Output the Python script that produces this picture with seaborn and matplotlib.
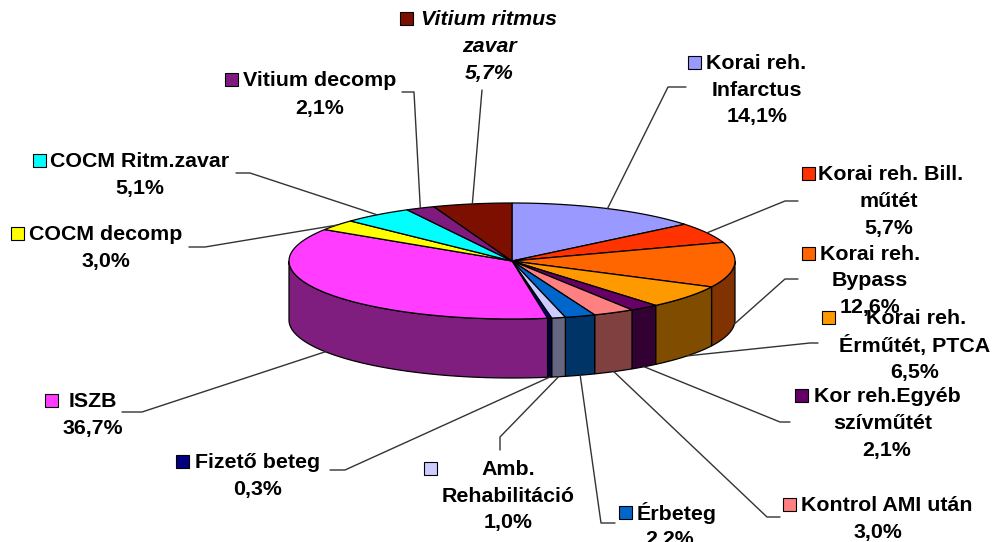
import numpy as np
import matplotlib
matplotlib.use("Agg")
import matplotlib.pyplot as plt
from matplotlib.patches import Rectangle
from matplotlib.colors import to_rgb
import seaborn as sns

# ---- data ----
labels = [
    ["Korai reh.", "Infarctus"],
    ["Korai reh. Bill.", "műtét"],
    ["Korai reh.", "Bypass"],
    ["Korai reh.", "Érműtét, PTCA"],
    ["Kor reh.Egyéb", "szívműtét"],
    ["Kontrol AMI után"],
    ["Érbeteg"],
    ["Amb.", "Rehabilitáció"],
    ["Fizető beteg"],
    ["ISZB"],
    ["COCM decomp"],
    ["COCM Ritm.zavar"],
    ["Vitium decomp"],
    ["Vitium ritmus", "zavar"],
]
values = [14.1, 5.7, 12.6, 6.5, 2.1, 3.0, 2.2, 1.0, 0.3, 36.7, 3.0, 5.1, 2.1, 5.7]
colors = ["#9999FF", "#FF3300", "#FF6600", "#FF9900", "#660066", "#FF8080", "#0066CC",
          "#CCCCFF", "#000080", "#FF3CFF", "#FFFF00", "#00FFFF", "#7F1A7F", "#7D0F00"]

# ---- layout (pixels) ----
CX, CY, RX, RY, DEPTH = 512, 261, 223, 58, 59
TEXT_DY = 1.5
key_pos = [(688, 62), (802, 173), (802, 253), (822, 317), (795, 395), (783, 504), (619, 512),
           (424, 468), (176, 461), (45, 400), (11, 233), (33, 160), (225, 79), (400, 18)]
line_pos = [
    [(756, 62), (757, 89), (757, 115)],
    [(891, 173), (889, 200), (889, 227)],
    [(870, 253), (870, 279), (870, 306)],
    [(916, 317), (915, 344), (915, 371)],
    [(887, 395), (883, 422), (887, 449)],
    [(887, 504), (878, 531)],
    [(677, 512), (670, 538)],
    [(508, 468), (508, 495), (508, 521)],
    [(258, 461), (258, 488)],
    [(93, 400), (93, 427)],
    [(106, 233), (106, 260)],
    [(140, 160), (140, 187)],
    [(320, 79), (320, 107)],
    [(489, 18), (489, 45), (489, 72)],
]
elbows = [
    [(668, 87), (686, 87)],
    [(785, 201), (798, 201)],
    [(785, 279), (798, 279)],
    [(810, 343), (818, 343)],
    [(780, 422), (790, 422)],
    [(767, 517), (780, 517)],
    [(601, 523), (615, 523)],
    [(500, 437), (500, 450)],
    [(345, 470), (330, 470)],
    [(142, 412), (122, 412)],
    [(205, 247), (189, 247)],
    [(250, 173), (236, 173)],
    [(414, 92), (402, 92)],
    [(482, 90)],
]

sns.set_theme(style="white")
plt.rcParams["font.family"] = ["Liberation Sans", "DejaVu Sans"]
palette = sns.color_palette(colors)

fig, ax = plt.subplots(figsize=(9.94, 5.42), dpi=100)
ax.set_position([0, 0, 1, 1])
ax.set_xlim(0, 994)
ax.set_ylim(542, 0)
ax.axis("off")


def ell(theta):
    """Point on the top ellipse, theta clockwise from 12 o'clock (radians)."""
    return CX + RX * np.sin(theta), CY - RY * np.cos(theta)


vals = np.array(values)
edges = np.concatenate([[0], np.cumsum(vals)]) / vals.sum() * 2 * np.pi
LW = 0.9

# side walls (only the front half is visible)
for i, col in enumerate(palette):
    a, b = max(edges[i], np.pi / 2), min(edges[i + 1], 3 * np.pi / 2)
    if b <= a:
        continue
    t = np.linspace(a, b, 80)
    x, y = ell(t)
    ax.fill(np.r_[x, x[::-1]], np.r_[y, y[::-1] + DEPTH],
            facecolor=tuple(c * 0.5 for c in to_rgb(col)), edgecolor="black", linewidth=LW, zorder=2)

# top faces
for i, col in enumerate(palette):
    t = np.linspace(edges[i], edges[i + 1], 80)
    x, y = ell(t)
    ax.fill(np.r_[CX, x], np.r_[CY, y], facecolor=col, edgecolor="black", linewidth=LW, zorder=3)

# leader lines
for i, el in enumerate(elbows):
    mid = (edges[i] + edges[i + 1]) / 2
    x0, y0 = ell(mid)
    if np.pi / 2 < mid < 3 * np.pi / 2:
        y0 += DEPTH
    xs = [x0] + [p[0] for p in el]
    ys = [y0] + [p[1] for p in el]
    ax.plot(xs, ys, color="#333333", linewidth=1.0, zorder=4)

# labels and keys
for i, (lines, val) in enumerate(zip(labels, values)):
    style = "italic" if i == len(values) - 1 else "normal"
    kx, ky = key_pos[i]
    ax.add_patch(Rectangle((kx, ky - 6), 12.5, 12.5, facecolor=palette[i], edgecolor="black",
                           linewidth=0.8, zorder=5))
    pct = f"{val:.1f}%".replace(".", ",")
    for txt, (tx, ty) in zip(lines + [pct], line_pos[i]):
        ax.text(tx, ty + TEXT_DY, txt, ha="center", va="center", fontsize=15.4, fontweight="bold",
                fontstyle=style, color="black", zorder=6)

fig.savefig("out.png", dpi=100, facecolor="white")
